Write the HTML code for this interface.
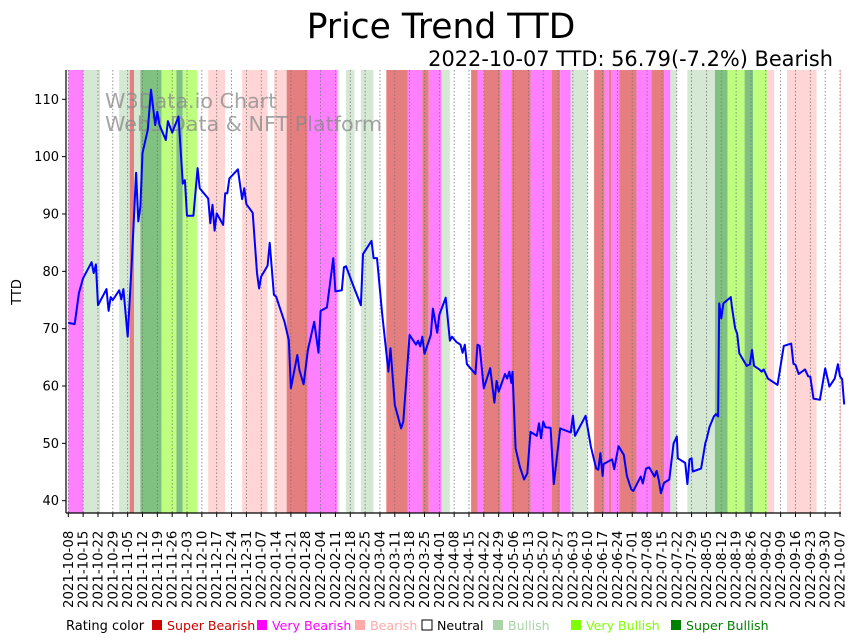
<!DOCTYPE html>
<html><head><meta charset="utf-8"><style>
body{margin:0;background:#fff;font-family:"Liberation Sans","DejaVu Sans",sans-serif}
svg{display:block}
</style></head><body>
<svg id="chart" width="857" height="641" xmlns="http://www.w3.org/2000/svg">
<text x="441" y="38" text-anchor="middle" font-size="34.5" fill="#000" font-family="DejaVu Sans, sans-serif">Price Trend TTD</text>
<text x="833" y="66" text-anchor="end" font-size="20.9" fill="#000" font-family="DejaVu Sans, sans-serif">2022-10-07 TTD: 56.79(-7.2%) Bearish</text>
<g id="bands"></g>
<g id="grid"></g>
<text x="105" y="108" font-size="20.7" fill="#888" fill-opacity="0.75" font-family="DejaVu Sans, sans-serif">W3Data.io Chart</text>
<text x="105" y="131" font-size="20.7" fill="#888" fill-opacity="0.75" font-family="DejaVu Sans, sans-serif">Web3 Data &amp; NFT Platform</text>
<path id="line" fill="none" stroke="#0000ff" stroke-width="2" stroke-linejoin="round"/>
<g id="axes"></g>
<text transform="translate(21,292) rotate(-90)" text-anchor="middle" font-size="13" font-family="DejaVu Sans, sans-serif">TTD</text>
<g id="legend" font-size="13" font-family="DejaVu Sans, sans-serif"></g>
</svg>
<script>
const ratingNames = ["Super Bearish","Very Bearish","Bearish","Neutral","Bullish","Very Bullish","Super Bullish"];
const ratingFill = ["#e57f7f","#ff80ff","#ffd5d5","#ffffff","#d5e8d4","#bfff80","#80c080"];
const legendSquare = ["#d00000","#ff00ff","#ffaaaa","#ffffff","#aad4a8","#80ff00","#008000"];
const legendText = ["#d00000","#ff00ff","#ffaaaa","#000000","#aad4a8","#80ff00","#008000"];
const bandStart = [0,7,15,24,29,31,34,44,51,54,61,66,74,82,94,97,103,113,127,128,131,135,138,144,150,160,167,170,176,180,190,193,196,204,209,218,228,232,237,245,248,253,255,256,260,268,275,281,284,287,292,305,311,319,323,330,333,339,353,364];
const bandRating = [1,4,3,4,0,4,6,5,6,5,3,2,3,2,3,2,0,1,4,3,4,3,4,3,0,1,0,1,4,3,0,1,0,1,0,1,0,1,4,3,0,1,0,1,0,1,0,1,4,3,4,6,5,6,5,2,3,2,3,2];
const bandEnd = 366;
const days = [0,3,5,7,11,12,13,14,18,19,20,21,24,25,26,28,30,32,33,34,35,37.5,39,41,42,43,46,47,49,52,54,55,56,59,61,62,66,67,68,69,70,73,74,75,76,80,82,83,84,87,89,90,91,94,95,97,98,102,104,105,108,109,111,113,116,118,119,122,125,126,129,130,131,134,138,139,143,144,145.6,148,151,152,154,157,158,161,164,165,166,167,168,171,172,174,175,178,180,181,183,185,186,187,188,192,193,194,196,199,201,202,203,206,207,208,209,209.5,211,213,215,216.5,218,221,222,223,224,225,227.5,229,232,237,238,239,244,246.5,249,250,251,252,252.5,256.5,257.5,259.5,262,263.5,265.5,266.5,270,271,272.5,274,276.5,277.5,278.5,279.5,281,283.5,285.5,287,287.5,291,292,293,294,294.5,298.5,300.5,301,302.5,304.5,305.5,306.5,307,308,309,312.5,313,314.5,315.5,316.5,320,321.5,322.5,323.5,326,327,328,330,334.5,337.5,341,342,343,344.5,347.5,349,350,351.5,354.5,357,359,361.5,363,364,365,366];
const prices = [71.0,70.8,76.2,78.8,81.6,79.7,81.2,74.1,76.9,73.1,75.5,75.0,76.7,75.1,76.9,68.6,82,97.2,88.7,91.3,100.6,104.7,111.7,105.5,107.8,105.5,102.9,106.2,104.2,107.0,95.3,95.9,89.7,89.7,98,94.5,92.7,88.4,91.6,87.1,90.1,88.1,93.6,93.6,96.2,97.8,92.6,94.5,91.7,90.2,79.7,77.0,79.1,81.0,85.0,75.9,75.6,71.2,68.0,59.6,65.4,62.8,60.3,66.3,71.2,65.8,73.1,73.7,82.3,76.5,76.7,80.7,80.9,77.9,74.1,83.0,85.3,82.3,82.3,72.7,62.5,66.6,56.7,52.6,53.8,68.9,67.2,67.9,66.9,68.6,65.6,68.9,73.5,69.3,72.4,75.4,67.9,68.6,67.7,67.2,65.8,67.2,63.8,62.1,67.2,67.0,59.6,63.1,57.1,60.9,59.0,62.1,61.3,62.5,60.5,62.5,49.1,45.9,43.7,44.8,52.0,51.3,53.5,50.9,53.8,52.8,52.7,42.9,52.6,51.9,54.8,51.3,54.8,49.4,45.6,45.4,48.3,44.3,46.4,47.2,45.5,49.5,48.0,44.3,42.0,41.7,44.2,43.0,45.6,45.8,44.2,45.2,43.7,41.3,43.1,43.7,50.0,51.2,47.4,46.6,42.9,47.2,47.4,45.1,45.6,50.1,50.6,52.9,54.7,55.1,54.7,74.4,71.8,74.4,75.5,73.8,70.1,69.1,65.7,63.5,63.8,66.3,63.5,62.9,62.5,62.9,61.3,60.2,67.0,67.4,63.9,63.7,62.1,62.9,61.7,61.6,57.8,57.6,63.1,59.9,61.3,63.8,61.7,61.2,56.8];
const yTicks = [40,50,60,70,80,90,100,110];
const startDate = "2021-10-08";
const tickCount = 53;

const NS="http://www.w3.org/2000/svg";
const L=66,R=841,T=70,B=513;
const xS=d=>68.3+d*(840-68.3)/364;
const yS=v=>99.3+(110-v)*(500.7-99.3)/70;
function mk(tag,attrs,parent){const e=document.createElementNS(NS,tag);for(const k in attrs)e.setAttribute(k,attrs[k]);parent.appendChild(e);return e;}

const bandsG=document.getElementById('bands');
for(let i=0;i<bandRating.length;i++){
  const a=Math.max(L,xS(bandStart[i])),b=Math.min(R,xS(i+1<bandStart.length?bandStart[i+1]:bandEnd));
  const r=mk('rect',{x:a,y:T,width:Math.max(0,b-a),height:B-T,fill:ratingFill[bandRating[i]]},bandsG);
  
  
}
const gridG=document.getElementById('grid');
const axesG=document.getElementById('axes');
const sd=new Date(startDate+"T00:00:00Z");
for(let i=0;i<tickCount;i++){
  const x=xS(i*7);
  const g=mk('line',{x1:x,x2:x,y1:T,y2:B,stroke:'#777','stroke-width':0.8,'stroke-dasharray':'1.5,2'},gridG);
  
  
  mk('line',{x1:x,x2:x,y1:B,y2:B+4,stroke:'#000','stroke-width':1},axesG);
  const dt=new Date(sd.getTime()+i*7*86400000).toISOString().slice(0,10);
  const t=mk('text',{transform:`translate(${x+4.5},608) rotate(-90)`,'font-size':13.3,'font-family':'DejaVu Sans, sans-serif'},axesG);
  t.textContent=dt;
  
  
}
for(const v of yTicks){
  const y=yS(v);
  mk('line',{x1:L-4,x2:L,y1:y,y2:y,stroke:'#000','stroke-width':1},axesG);
  const t=mk('text',{x:L-7,y:y+4.5,'text-anchor':'end','font-size':13,'font-family':'DejaVu Sans, sans-serif'},axesG);
  t.textContent=v;
  
  
}
mk('line',{x1:L,x2:L,y1:T,y2:B,stroke:'#000','stroke-width':1.2},axesG);
mk('line',{x1:L,x2:R,y1:B,y2:B,stroke:'#000','stroke-width':1.2},axesG);

let d='';
for(let i=0;i<days.length;i++){d+=(i?'L':'M')+xS(days[i]).toFixed(1)+','+yS(prices[i]).toFixed(1);}
document.getElementById('line').setAttribute('d',d);

const lg=document.getElementById('legend');
const lt=mk('text',{x:66,y:630,fill:'#000'},lg);lt.textContent='Rating color';


const lx=[152,257,355,422,493,571,671];
for(let i=0;i<7;i++){
  const s=mk('rect',{x:lx[i],y:620,width:10,height:10,fill:legendSquare[i],stroke:i==3?'#000':'none','stroke-width':1},lg);
  
  
  const t=mk('text',{x:lx[i]+15,y:630,fill:legendText[i],'font-size':12.6},lg);t.textContent=ratingNames[i];
  
  
}
</script>
</body></html>
